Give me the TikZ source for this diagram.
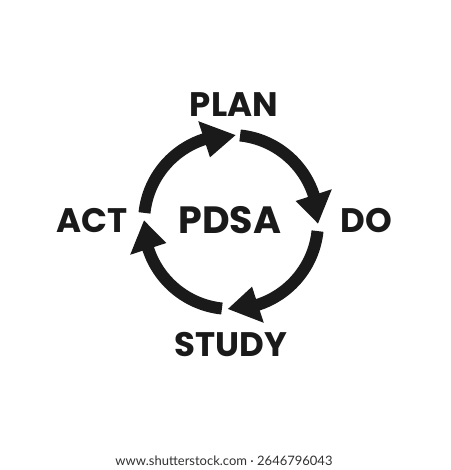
\documentclass[tikz,border=0pt]{standalone}
\usepackage{fontspec}
\setmainfont{Poppins}
\newfontfamily\footfont{Lato}
\definecolor{ink}{HTML}{1A1A1A}
\begin{document}
\begin{tikzpicture}[x=1pt,y=1pt,
  lbl/.style={font=\fontsize{34}{34}\selectfont\bfseries, text=ink, inner sep=0pt, anchor=base},
  ring/.style={line width=12pt, draw=ink, line cap=butt},
  head/.style={fill=ink}]
\useasboundingbox (0,0) rectangle (450,470);
\fill[white] (0,0) rectangle (450,470);
\begin{scope}[shift={(231,248)}]
  % PLAN arrow (left -> top)
  \draw[ring] (174:87) arc[start angle=174, end angle=107, radius=87];
  \fill[head] (108:68) -- (108:106) -- (87:87) -- cycle;
  % DO arrow (top -> right)
  \draw[ring] (84:87) arc[start angle=84, end angle=17, radius=87];
  \fill[head] (18:68) -- (18:106) -- (-1:87) -- cycle;
  % STUDY arrow (right -> bottom)
  \draw[ring] (-6:87) arc[start angle=-6, end angle=-73, radius=87];
  \fill[head] (-72:68) -- (-72:106) -- (-92:87) -- cycle;
  % ACT arrow (bottom -> left)
  \draw[ring] (-96:87) arc[start angle=-96, end angle=-163, radius=87];
  \fill[head] (-162:68) -- (-162:106) -- (-181:87) -- cycle;
\end{scope}
\node[lbl] (plan) at (234,353) {PLAN};
\node[lbl] (do) at (366,237) {DO};
\node[lbl] (study) at (231,113) {STUDY};
\node[lbl] (act) at (92,237) {ACT};
\node[lbl, font=\fontsize{38}{38}\selectfont\bfseries] (pdsa) at (230,236) {PDSA};
\node[inner sep=0pt, anchor=base, text=ink!90, font=\footfont\fontsize{13}{13}\selectfont] (foot) at (224,5) {www.shutterstock.com · 2646796043};
\end{tikzpicture}
\end{document}
